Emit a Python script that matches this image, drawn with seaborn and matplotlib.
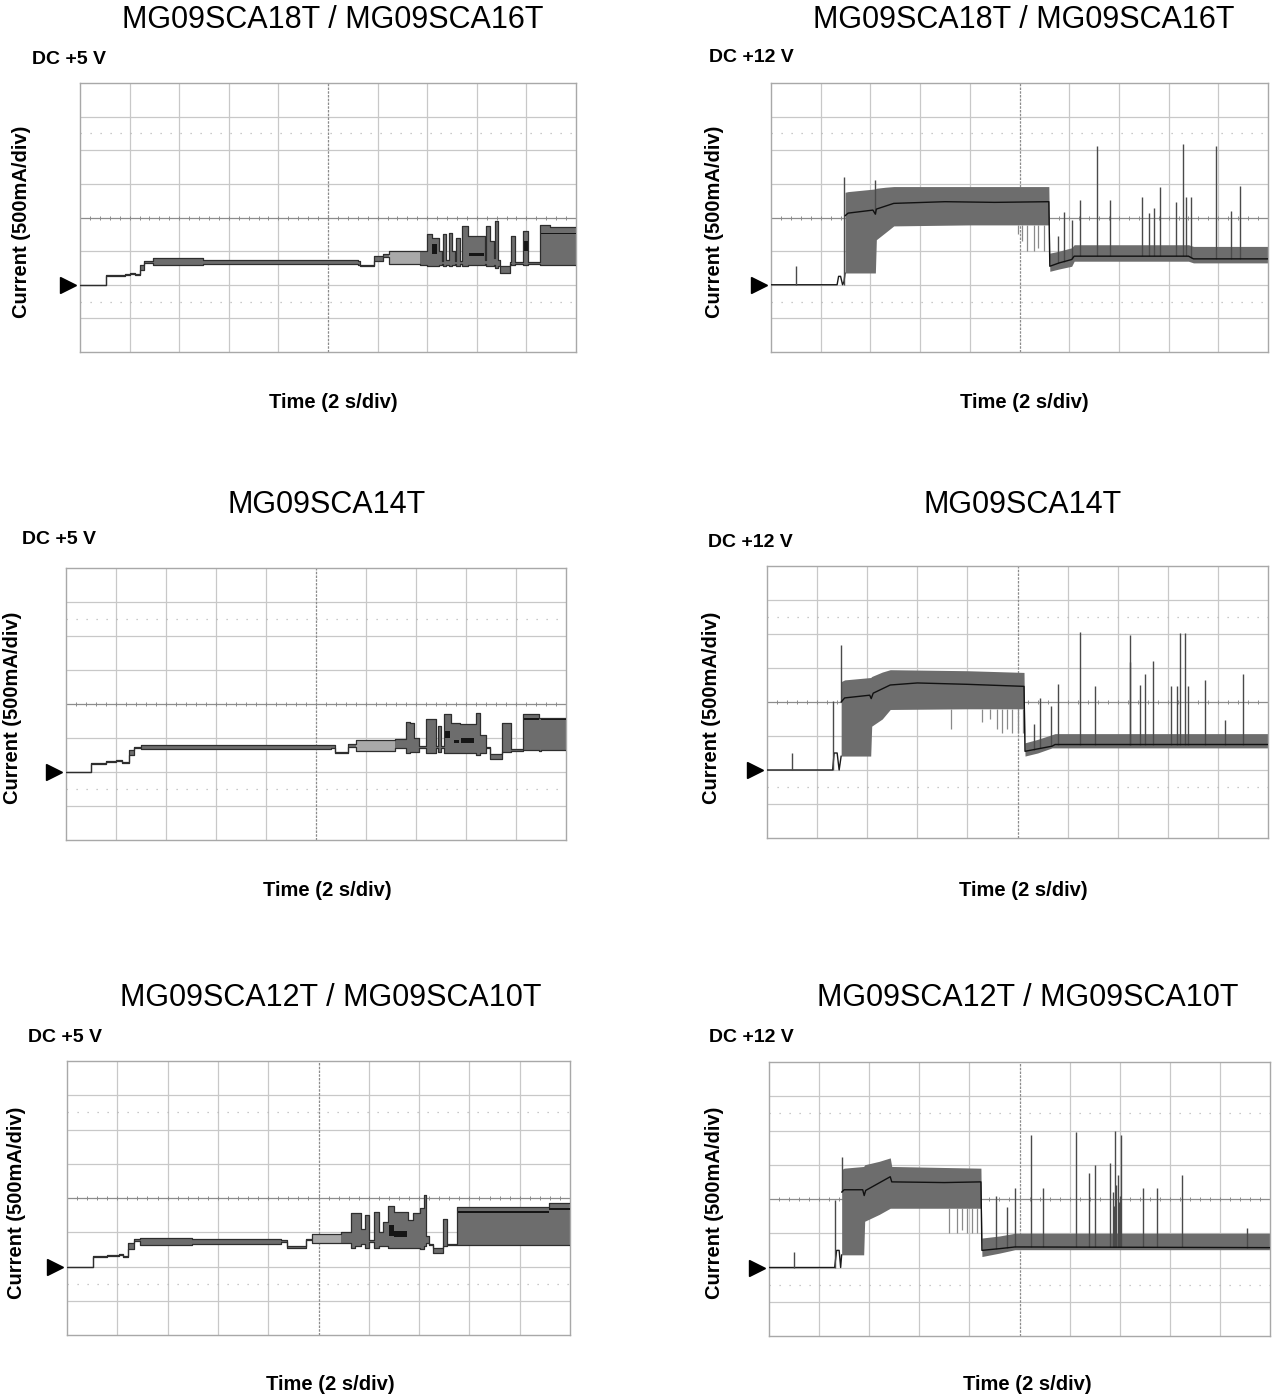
import numpy as np
import matplotlib
matplotlib.use("Agg")
import matplotlib.pyplot as plt
import seaborn as sns

# all values in screen divisions: time 2 s/div, current 500 mA/div, 0 = ground
# ---- DC +5 V traces: step segments (edges, low, high)
p1_edges = [0, 0.52, 0.9, 1.0, 1.1, 1.2, 1.3, 1.48, 2.47, 5.6, 5.65, 5.92, 6.1, 6.22, 6.86,
            7.0, 7.1, 7.23, 7.3, 7.32, 7.38, 7.43, 7.5, 7.57, 7.59, 7.67, 7.7, 7.83, 7.97,
            8.17, 8.19, 8.26, 8.35, 8.37, 8.42, 8.47, 8.67, 8.69, 8.78, 8.94, 9.04, 9.27, 9.48, 10.0]
p1_low = [0, 0.27, 0.3, 0.33, 0.28, 0.45, 0.65, 0.58, 0.63, 0.6, 0.55, 0.7, 0.82, 0.62, 0.6,
          0.55, 0.55, 0.6, 0.62, 0.55, 0.6, 0.55, 0.6, 0.62, 0.55, 0.62, 0.55, 0.58, 0.6,
          0.62, 0.55, 0.55, 0.6, 0.5, 0.55, 0.36, 0.62, 0.6, 0.62, 0.6, 0.62, 0.6, 0.6]
p1_high = [0, 0.3, 0.33, 0.36, 0.33, 0.6, 0.72, 0.8, 0.73, 0.72, 0.58, 0.85, 0.9, 1.0, 1.0,
           1.5, 1.4, 1.0, 0.7, 1.5, 0.75, 1.55, 1.0, 0.7, 1.4, 0.7, 1.75, 1.45, 1.45,
           0.75, 1.75, 1.3, 0.8, 1.9, 0.75, 0.55, 0.67, 1.45, 0.67, 1.6, 0.67, 1.78, 1.72]
p1_light = [(6.22, 6.86, 0.62, 1.0)]
p1_dark = [(7.1, 7.2, 0.9, 1.2), (7.85, 8.15, 0.85, 0.95), (8.94, 9.04, 1.0, 1.3),
           (9.27, 10.0, 1.5, 1.55)]

p3_edges = [0, 0.49, 0.8, 1.0, 1.12, 1.25, 1.35, 1.49, 5.29, 5.37, 5.63, 5.8, 6.57, 6.79,
            6.87, 6.95, 7.05, 7.2, 7.39, 7.43, 7.5, 7.55, 7.7, 7.88, 8.2, 8.28, 8.4, 8.47,
            8.72, 8.9, 9.13, 9.45, 9.5, 10.0]
p3_low = [0, 0.24, 0.3, 0.32, 0.26, 0.5, 0.7, 0.67, 0.7, 0.55, 0.75, 0.63, 0.7,
          0.55, 0.6, 0.6, 0.72, 0.55, 0.72, 0.6, 0.72, 0.55, 0.55, 0.55, 0.5, 0.55, 0.7,
          0.37, 0.6, 0.62, 0.65, 0.62, 0.65]
p3_high = [0, 0.27, 0.33, 0.35, 0.29, 0.65, 0.75, 0.8, 0.78, 0.6, 0.82, 0.93, 0.98,
           1.48, 1.45, 1.0, 0.77, 1.55, 0.77, 1.35, 0.77, 1.7, 1.45, 1.4, 1.75, 1.1, 0.75,
           0.54, 1.45, 0.68, 1.72, 1.6, 1.6]
p3_light = [(5.8, 6.57, 0.63, 0.93)]
p3_dark = [(7.58, 7.68, 1.0, 1.2), (7.75, 7.85, 0.85, 0.95), (7.9, 8.15, 0.85, 1.0),
           (9.13, 9.45, 1.52, 1.58), (9.5, 10.0, 1.52, 1.57)]

p5_edges = [0, 0.51, 0.8, 1.04, 1.12, 1.22, 1.34, 1.46, 2.48, 4.25, 4.38, 4.75, 4.88, 5.45,
            5.65, 5.72, 5.85, 5.92, 6.01, 6.11, 6.21, 6.28, 6.38, 6.51, 6.78, 6.88, 7.01,
            7.09, 7.13, 7.2, 7.27, 7.48, 7.56, 7.75, 9.58, 10.0]
p5_low = [0, 0.27, 0.3, 0.33, 0.27, 0.5, 0.75, 0.63, 0.65, 0.72, 0.55, 0.76, 0.68, 0.7,
          0.55, 0.6, 0.65, 0.55, 0.72, 0.55, 0.6, 0.6, 0.55, 0.55, 0.55, 0.55, 0.5,
          0.6, 0.7, 0.63, 0.38, 0.6, 0.63, 0.62, 0.62]
p5_high = [0, 0.3, 0.33, 0.36, 0.3, 0.7, 0.8, 0.84, 0.8, 0.78, 0.6, 0.8, 0.95, 1.0,
           1.55, 1.55, 1.1, 1.5, 0.78, 1.6, 1.0, 1.3, 1.78, 1.6, 1.35, 1.55, 1.7,
           2.1, 0.9, 0.67, 0.55, 1.4, 0.67, 1.75, 1.85]
p5_light = [(4.88, 5.45, 0.68, 0.95)]
p5_dark = [(6.4, 6.5, 0.9, 1.2), (6.5, 6.75, 0.85, 1.05), (7.75, 9.58, 1.57, 1.62),
           (9.58, 10.0, 1.65, 1.7)]

# ---- DC +12 V traces: envelope band, average, spikes
p2_base_t = [0, 1.33, 1.36, 1.4, 1.44, 1.47, 1.49]
p2_base_i = [0, 0, 0.25, 0.25, 0.0, 0.1, 0.35]
p2_band_t = [1.49, 1.55, 2.10, 2.12, 2.3, 2.47, 4.0, 5.59, 5.61, 5.8, 6.05, 6.1, 8.4, 8.5, 10.0]
p2_band_lo = [0.35, 0.35, 0.35, 1.34, 1.55, 1.75, 1.78, 1.78, 0.4, 0.47, 0.55, 0.7, 0.7, 0.65, 0.65]
p2_band_hi = [2.75, 2.77, 2.85, 2.87, 2.9, 2.92, 2.92, 2.92, 0.94, 1.0, 1.1, 1.19, 1.19, 1.14, 1.14]
p2_mean_t = [1.49, 1.55, 2.05, 2.10, 2.12, 2.47, 3.5, 4.5, 5.59, 5.61, 5.8, 6.05, 6.1, 8.4, 8.5, 10.0]
p2_mean_i = [2.05, 2.13, 2.22, 2.1, 2.25, 2.42, 2.47, 2.45, 2.47, 0.55, 0.65, 0.75, 0.85, 0.85, 0.77, 0.77]
p2_spike_t = [0.5, 1.47, 2.10, 5.77, 5.9, 6.06, 6.21, 6.56, 6.82, 7.46, 7.61, 7.7, 7.83, 8.14,
              8.28, 8.36, 8.45, 8.95, 9.25, 9.43]
p2_spike_top = [0.55, 3.2, 3.12, 1.44, 2.15, 1.93, 2.52, 4.12, 2.52, 2.62, 2.13, 2.27, 2.92, 2.47,
                4.2, 2.62, 2.62, 4.12, 2.18, 2.94]
p2_drop_t = [4.97, 5.05, 5.15, 5.3, 5.38, 5.5]
p2_drop_bottom = [1.5, 1.3, 1.0, 1.0, 1.1, 1.0]

p4_base_t = [0, 1.31, 1.34, 1.4, 1.44, 1.48]
p4_base_i = [0, 0, 0.5, 0.5, 0.0, 0.41]
p4_band_t = [1.48, 1.55, 2.07, 2.09, 2.3, 2.46, 4.0, 5.13, 5.15, 5.4, 5.69, 5.75, 10.0]
p4_band_lo = [0.41, 0.41, 0.41, 1.29, 1.5, 1.78, 1.8, 1.8, 0.41, 0.5, 0.65, 0.65, 0.65]
p4_band_hi = [2.6, 2.65, 2.72, 2.75, 2.88, 2.95, 2.92, 2.87, 0.8, 0.9, 1.04, 1.07, 1.07]
p4_mean_t = [1.48, 1.55, 2.05, 2.08, 2.12, 2.46, 3.0, 4.0, 5.13, 5.15, 5.4, 5.69, 5.75, 10.0]
p4_mean_i = [2.0, 2.12, 2.2, 2.1, 2.26, 2.5, 2.56, 2.52, 2.46, 0.55, 0.62, 0.7, 0.75, 0.75]
p4_spike_t = [0.5, 1.31, 1.48, 5.32, 5.45, 5.66, 5.8, 6.24, 6.55, 7.24, 7.25, 7.44, 7.55, 7.7,
              8.07, 8.18, 8.24, 8.34, 8.4, 8.74, 9.15, 9.5]
p4_spike_top = [0.49, 2.02, 3.68, 1.34, 2.12, 1.87, 2.54, 4.07, 2.48, 3.97, 3.19, 2.51, 2.83, 3.22,
                2.46, 2.48, 4.04, 4.04, 2.46, 2.65, 1.48, 2.83]
p4_drop_t = [3.67, 4.3, 4.45, 4.6, 4.7, 4.8, 4.9, 5.0, 5.1]
p4_drop_bottom = [1.2, 1.4, 1.5, 1.2, 1.1, 1.2, 1.1, 1.1, 1.1]

p6_base_t = [0, 1.31, 1.35, 1.4, 1.43, 1.45]
p6_base_i = [0, 0, 0.5, 0.5, 0.0, 0.37]
p6_band_t = [1.45, 1.5, 1.89, 1.91, 2.2, 2.42, 2.45, 3.5, 4.23, 4.25, 4.6, 4.91, 4.95, 10.0]
p6_band_lo = [0.37, 0.37, 0.37, 1.35, 1.55, 1.73, 1.73, 1.73, 1.73, 0.32, 0.42, 0.52, 0.52, 0.52]
p6_band_hi = [2.86, 2.9, 2.95, 3.0, 3.1, 3.2, 2.95, 2.92, 2.9, 0.86, 0.92, 1.0, 1.0, 1.0]
p6_mean_t = [1.45, 1.5, 1.87, 1.9, 1.93, 2.42, 2.45, 3.5, 4.23, 4.25, 4.6, 4.91, 4.95, 10.0]
p6_mean_i = [2.2, 2.27, 2.27, 2.1, 2.25, 2.65, 2.5, 2.48, 2.5, 0.5, 0.55, 0.6, 0.6, 0.58]
p6_spike_t = [0.5, 1.31, 1.45, 4.54, 4.76, 4.92, 5.23, 5.46, 6.12, 6.39, 6.5, 6.8, 6.86, 6.88,
              6.91, 6.93, 6.96, 6.98, 7.0, 7.02, 7.46, 7.75, 8.24, 9.54]
p6_spike_top = [0.45, 1.98, 3.22, 2.08, 1.78, 2.32, 3.88, 2.32, 3.96, 2.76, 3.0, 3.05, 2.2, 1.8,
                4.0, 2.4, 2.71, 1.9, 2.1, 3.88, 2.32, 2.32, 2.71, 1.15]
p6_drop_t = [3.6, 3.75, 3.85, 3.95, 4.05, 4.15]
p6_drop_bottom = [1.0, 1.0, 1.1, 1.0, 1.0, 1.0]

titles = ["MG09SCA18T / MG09SCA16T", "MG09SCA14T", "MG09SCA12T / MG09SCA10T"]
rails = ["DC +5 V", "DC +12 V"]

sns.set_theme(style="white")
plt.rcParams['font.family'] = ['Liberation Sans', 'DejaVu Sans']

W, H = 1274, 1397
fig = plt.figure(figsize=(W / 100, H / 100), dpi=100)


def px_axes(l, t, r, b):
    return fig.add_axes([l / W, 1 - b / H, (r - l) / W, (b - t) / H])


def ftext(x, y, s, **kw):
    fig.text(x / W, 1 - y / H, s, ha='center', va='center', **kw)


def scope_grid(ax):
    ax.set_xlim(0, 10)
    ax.set_ylim(-2, 6)
    ax.set_xticks([])
    ax.set_yticks([])
    for k in range(1, 10):
        if k != 5:
            ax.axvline(k, color='#c8c8c8', lw=0.9, zorder=0)
    for k in range(-1, 6):
        if k != 2:
            ax.axhline(k, color='#c8c8c8', lw=0.9, zorder=0)
    ax.axvline(5, color='#8c8c8c', lw=0.9, ls=(0, (2, 1)), zorder=0)
    ax.axhline(2, color='#8c8c8c', lw=0.9, zorder=0)
    ticks = np.arange(0.2, 10, 0.2)
    ax.plot(ticks, np.full(len(ticks), 2), '|', color='#8c8c8c', ms=3, mew=0.7, zorder=0)
    for yd in (-0.5, 4.5):
        ax.axhline(yd, color='#b8b8b8', lw=0.9, ls=(0, (1, 7)), zorder=0)
    for sp in ax.spines.values():
        sp.set_color('#a8a8a8')
        sp.set_linewidth(1.0)
    ax.plot(-0.24, 0, marker='>', ms=11, color='black', clip_on=False)


def draw_5v(ax, edges, low, high, light, dark):
    lo = low + [low[-1]]
    hi = high + [high[-1]]
    ax.fill_between(edges, lo, hi, step='post', color='#6d6d6d', lw=0, zorder=2)
    for t0, t1, a, b in light:
        ax.fill_between([t0, t1], [a, a], [b, b], color='#a9a9a9', lw=0, zorder=3)
    for t0, t1, a, b in dark:
        ax.fill_between([t0, t1], [a, a], [b, b], color='#151515', lw=0, zorder=3)
    ax.step(edges, lo, where='post', color='#2e2e2e', lw=0.9, zorder=4)
    ax.step(edges, hi, where='post', color='#2e2e2e', lw=0.9, zorder=4)


def draw_12v(ax, base_t, base_i, band_t, lo, hi, mean_t, mean_i, sp_t, sp_top, dr_t, dr_bot):
    ax.fill_between(band_t, lo, hi, color='#6d6d6d', lw=0, zorder=2)
    ax.plot(base_t, base_i, color='#1a1a1a', lw=1.0, zorder=3)
    base = np.interp(sp_t, mean_t, mean_i, left=0)
    ax.vlines(sp_t, base, sp_top, color='#4a4a4a', lw=1.0, zorder=3)
    ax.vlines(dr_t, dr_bot, np.interp(dr_t, band_t, lo), color='#8a8a8a', lw=0.9, zorder=3)
    sns.lineplot(x=mean_t, y=mean_i, ax=ax, color='#111111', lw=1.0, estimator=None,
                 sort=False, zorder=4)


rects = [(80, 83, 576, 352), (771, 83, 1268, 352),
         (66, 568, 566, 840), (767, 566, 1268, 838),
         (67, 1061, 570, 1335), (769, 1062, 1270, 1336)]
title_pos = [(333, 20), (1024, 20), (327, 505), (1023, 505), (331, 998), (1028, 998)]
rail_pos = [(69, 59), (751, 58), (59, 540), (750, 543), (65, 1037), (751, 1037)]
ylab_pos = [(22, 222), (714, 222), (13, 708), (711, 708), (17, 1203), (714, 1203)]
xlab_pos = [(333, 402), (1024, 402), (327, 890), (1023, 890), (330, 1385), (1027, 1385)]

axes = [px_axes(*r) for r in rects]
for a in axes:
    scope_grid(a)

draw_5v(axes[0], p1_edges, p1_low, p1_high, p1_light, p1_dark)
draw_5v(axes[2], p3_edges, p3_low, p3_high, p3_light, p3_dark)
draw_5v(axes[4], p5_edges, p5_low, p5_high, p5_light, p5_dark)
draw_12v(axes[1], p2_base_t, p2_base_i, p2_band_t, p2_band_lo, p2_band_hi, p2_mean_t, p2_mean_i,
         p2_spike_t, p2_spike_top, p2_drop_t, p2_drop_bottom)
draw_12v(axes[3], p4_base_t, p4_base_i, p4_band_t, p4_band_lo, p4_band_hi, p4_mean_t, p4_mean_i,
         p4_spike_t, p4_spike_top, p4_drop_t, p4_drop_bottom)
draw_12v(axes[5], p6_base_t, p6_base_i, p6_band_t, p6_band_lo, p6_band_hi, p6_mean_t, p6_mean_i,
         p6_spike_t, p6_spike_top, p6_drop_t, p6_drop_bottom)

for i in range(6):
    ftext(*title_pos[i], titles[i // 2], fontsize=22, color='black')
    ftext(*rail_pos[i], rails[i % 2], fontsize=14, fontweight='bold', color='black')
    ftext(*ylab_pos[i], "Current (500mA/div)", fontsize=14.5, fontweight='bold',
          rotation=90, color='black')
    ftext(*xlab_pos[i], "Time (2 s/div)", fontsize=14.5, fontweight='bold', color='black')

fig.savefig("out.png", dpi=100, facecolor='white')
